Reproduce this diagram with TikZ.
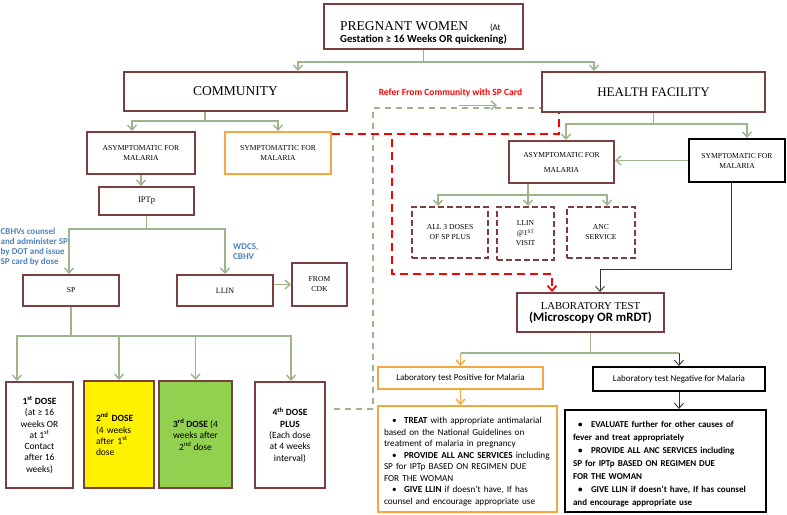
\documentclass[tikz,border=0pt]{standalone}
\usepackage{fontspec}
\setmainfont{Carlito}
\newfontfamily\cam{Liberation Serif}
\usetikzlibrary{arrows,arrows.meta}
\definecolor{brn}{HTML}{7B3F3F}
\definecolor{grn}{HTML}{9CB58A}
\definecolor{org}{HTML}{F4A640}
\definecolor{dgrn}{HTML}{92D050}
\definecolor{blu}{HTML}{4F81BD}
\hyphenpenalty=10000
\newcommand{\itm}[2]{\par\hangindent=#2\hangafter=1\noindent\makebox[#2][l]{\hspace{#1}\textbullet}}

\begin{document}
\begin{tikzpicture}[x=1pt,y=-1pt,>={Straight Barb[length=5pt,width=9pt]}]
	\tikzstyle{box}=[draw=brn,line width=2pt,rectangle,inner sep=1pt,align=center]
	\tikzstyle{obox}=[box,draw=org]
	\tikzstyle{kbox}=[box,draw=black,line width=2.2pt]
	\tikzstyle{dbox}=[box,dash pattern=on 6pt off 3pt]
	\tikzstyle{big}=[font=\cam\fontsize{13.5}{16}\selectfont]
	\tikzstyle{small}=[font=\cam\fontsize{7.6}{10}\selectfont]
	\tikzstyle{dose}=[box,font=\fontsize{9.5}{11.3}\selectfont]
	\tikzstyle{line}=[draw=grn,line width=1.4pt]
	\tikzstyle{arr}=[line,->]
	\tikzstyle{oarr}=[draw=org,line width=1.4pt,->]
	\tikzstyle{karr}=[draw=black!80,line width=0.9pt,->]
	\tikzstyle{gdash}=[line,dash pattern=on 6pt off 5pt]
	\tikzstyle{rdash}=[draw=red,line width=1.8pt,dash pattern=on 8pt off 5pt]
	\useasboundingbox (0,0) rectangle (787,514);

	\node[box,minimum width=199,minimum height=45,align=left] (preg) at (423.5,26.5)
		{\rule{0pt}{22pt}{\cam\fontsize{13.5}{16}\selectfont PREGNANT WOMEN}\hspace{22pt}{\fontsize{9}{11}\selectfont (At}\\
		{\bfseries\fontsize{10.8}{12}\selectfont Gestation ≥ 16 Weeks OR quickening)}};
	\node[box,big,minimum width=223,minimum height=39] (comm) at (235.5,91.5) {COMMUNITY};
	\node[box,big,minimum width=223,minimum height=40,font=\cam\fontsize{13}{16}\selectfont] (hf) at (653.5,92) {HEALTH FACILITY};
	\node[text=red,font=\bfseries\fontsize{9.5}{11}\selectfont,inner sep=1pt] (refc) at (450.5,93) {Refer From Community with SP Card};

	\node[box,small,minimum width=108,minimum height=42] (asymC) at (141,153) {ASYMPTOMATIC FOR\\MALARIA};
	\node[obox,small,minimum width=106,minimum height=42] (sympC) at (278,153) {SYMPTOMATTIC FOR\\MALARIA};
	\node[box,minimum width=95,minimum height=28,font=\cam\fontsize{8.5}{10}\selectfont] (iptp) at (146.5,201) {IPTp};
	\node[box,small,minimum width=96,minimum height=31] (sp) at (71,290.5) {SP};
	\node[box,small,minimum width=96,minimum height=31,font=\cam\fontsize{8}{10}\selectfont] (llin) at (225,290.5) {LLIN};
	\node[box,small,minimum width=55,minimum height=43] (cdk) at (319.5,284.5) {FROM\\CDK};
	\node[text=blu,font=\bfseries\fontsize{9}{10}\selectfont,align=left,inner sep=0pt,anchor=west] (cbhv) at (0.5,247)
		{CBHVs counsel\\and administer SP\\by DOT and issue\\SP card by dose};
	\node[text=blu,font=\bfseries\fontsize{9}{10}\selectfont,align=left,inner sep=0pt,anchor=west] (wdcs) at (233,252)
		{WDCS,\\CBHV};

	\node[dose,minimum width=67,minimum height=106] (d1) at (39.5,435)
		{\textbf{1\textsuperscript{st} DOSE}\\(at ≥ 16\\weeks OR\\at 1\textsuperscript{st}\\Contact\\after 16\\weeks)};
	\node[dose,fill=yellow,minimum width=70,minimum height=107,text width=46,inner xsep=12pt,align=left] (d2) at (119,434.5)
		{\textbf{2\textsuperscript{nd} DOSE}\\(4 weeks\\after 1\textsuperscript{st}\\dose};
	\node[dose,fill=dgrn,minimum width=73,minimum height=107] (d3) at (195.5,434.5)
		{\textbf{3\textsuperscript{rd} DOSE} (4\\weeks after\\2\textsuperscript{nd} dose};
	\node[dose,minimum width=70,minimum height=106] (d4) at (290,435)
		{\textbf{4\textsuperscript{th} DOSE}\\\textbf{PLUS}\\(Each dose\\at 4 weeks\\interval)};

	\node[box,small,minimum width=105,minimum height=42] (asymH) at (561.5,162) {ASYMPTOMATIC FOR\\[5pt]MALARIA};
	\node[kbox,small,minimum width=96,minimum height=43] (sympH) at (737,160.5) {SYMPTOMATIC FOR\\MALARIA};
	\node[dbox,small,minimum width=76,minimum height=51] (anc1) at (450,232.5) {ALL 3 DOSES\\OF SP PLUS};
	\node[dbox,small,minimum width=57,minimum height=53] (anc2) at (525.5,233.5) {LLIN\\@1\textsuperscript{ST}\\VISIT};
	\node[dbox,small,minimum width=68,minimum height=51] (anc3) at (601,232.5) {ANC\\SERVICE};

	\node[box,minimum width=147,minimum height=39] (lab) at (590.5,312.5)
		{{\cam\fontsize{10.7}{13}\selectfont LABORATORY TEST}\\{\bfseries\fontsize{12.8}{13}\selectfont (Microscopy OR mRDT)}};
	\node[obox,minimum width=165,minimum height=22,font=\fontsize{9}{10}\selectfont] (pos) at (460.5,378) {Laboratory test Positive for Malaria};
	\node[kbox,minimum width=172,minimum height=24,font=\fontsize{9}{10}\selectfont] (neg) at (679,379) {Laboratory test Negative for Malaria};
	\node[obox,minimum width=179,minimum height=106,text width=167,inner xsep=6pt,align=left,font=\fontsize{9.2}{11.5}\selectfont] (treat) at (467.5,459)
		{\itm{8pt}{20pt}\textbf{TREAT} with appropriate antimalarial\\based on the National Guidelines on\\treatment of malaria in pregnancy
		\itm{8pt}{20pt}\textbf{PROVIDE ALL ANC SERVICES} including\\SP for IPTp BASED ON REGIMEN DUE\\FOR THE WOMAN
		\itm{8pt}{20pt}\textbf{GIVE LLIN} if doesn't have, If has\\counsel and encourage appropriate use};
	\node[kbox,minimum width=201,minimum height=102,text width=185,inner xsep=8pt,align=left,font=\bfseries\fontsize{9}{13}\selectfont] (eval) at (665.5,461)
		{\itm{5pt}{18pt}EVALUATE further for other causes of\\fever and treat appropriately
		\itm{5pt}{18pt}PROVIDE ALL ANC SERVICES including\\SP for IPTp BASED ON REGIMEN DUE\\FOR THE WOMAN
		\itm{5pt}{18pt}GIVE LLIN if doesn't have, If has counsel\\and encourage appropriate use};

	\draw[arr] (preg.south) -- ++(0,12) -| ([xshift=62.5pt]comm.north);
	\draw[arr] (preg.south) -- ++(0,12) -| ([xshift=-59.5pt]hf.north);
	\draw[arr] ([xshift=8.5pt,yshift=-7pt]refc.south) -- ++(38,0);

	\draw[arr] ([xshift=-30.5pt]comm.south) -- ++(0,9) -| ([xshift=-9pt]asymC.north);
	\draw[arr] ([xshift=-30.5pt]comm.south) -- ++(0,9) -| (sympC.north);
	\draw[arr] (asymC.south) -- (asymC.south |- iptp.north);
	\draw[arr] (iptp.south) -- ++(0,13) -| ([xshift=-2pt]sp.north);
	\draw[arr] (iptp.south) -- ++(0,13) -| (llin.north);
	\draw[arr] (llin.east |- cdk.west) -- (cdk.west);
	\draw[arr] (sp.south) -- ++(0,29) -| ([xshift=-22.5pt]d1.north);
	\draw[arr] (sp.south) -- ++(0,29) -| (d2.north);
	\draw[arr] (sp.south) -- ++(0,29) -| (d3.north);
	\draw[arr] (sp.south) -- ++(0,29) -| ([xshift=1pt]d4.north);
	\draw[gdash,shorten <=8pt] ([yshift=26pt]d4.east) -- ++(47,0) |- ([yshift=-16pt]hf.west);

	\draw[rdash] ([yshift=19pt]sympC.east) -| ([xshift=-94.5pt]hf.south);
	\coordinate (rc) at (392,139);
	\draw[rdash,->] (rc) |- ([xshift=-38.5pt,yshift=18pt]lab.north) -- ([xshift=-38.5pt]lab.north);

	\draw[arr] (hf.south) -- ++(0,11) -| ([xshift=4.5pt]asymH.north);
	\draw[arr] (hf.south) -- ++(0,11) -| ([xshift=10pt]sympH.north);
	\draw[arr] (sympH.west) -- (sympH.west -| asymH.east);
	\draw[arr] ([xshift=-33.5pt]asymH.south) -- ++(0,11) -| ([xshift=-12pt]anc1.north);
	\draw[arr] ([xshift=-33.5pt]asymH.south) -- ++(0,11) -| ([xshift=2.5pt]anc2.north);
	\draw[arr] ([xshift=-33.5pt]asymH.south) -- ++(0,11) -| ([xshift=6pt]anc3.north);
	\draw[karr] ([xshift=-6pt]sympH.south) |- ([xshift=9.5pt,yshift=23pt]lab.north) -- ([xshift=9.5pt]lab.north);

	\draw[line] (lab.south) -- ++(0,20) coordinate (lj);
	\draw[line] (lj -| pos.north) -- (lj -| neg.north);
	\draw[oarr] (lj -| pos.north) -- (pos.north);
	\draw[karr] (lj -| neg.north) -- (neg.north);
	\draw[oarr] (pos.south) -- (pos.south |- treat.north);
	\draw[karr] (neg.south) -- (neg.south |- eval.north);
\end{tikzpicture}
\end{document}
